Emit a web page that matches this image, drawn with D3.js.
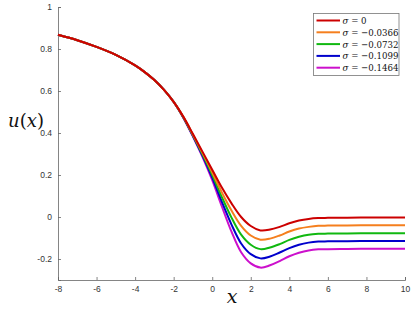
<!DOCTYPE html>
<html><head><meta charset="utf-8">
<script src="https://cdn.jsdelivr.net/npm/d3@7"></script>
<style>body{margin:0;background:#fff}svg{display:block}</style>
</head><body>
<script>
const xs = [-8,-7,-6,-5,-4,-3.5,-3,-2.5,-2,-1.5,-1,-0.5,0,0.5,1,1.5,2,2.5,3,3.5,4,4.5,5,5.5,6,7,8,9,10];
const sigma0 =  [0.868,0.842,0.81,0.772,0.722,0.69,0.652,0.605,0.548,0.478,0.395,0.31,0.225,0.14,0.065,0.0,-0.043,-0.064,-0.06,-0.047,-0.03,-0.017,-0.009,-0.005,-0.004,-0.003,-0.002,-0.002,-0.002];
const sigma1 =  [0.868,0.842,0.81,0.772,0.722,0.69,0.652,0.605,0.548,0.477,0.392,0.304,0.212,0.117,0.031,-0.042,-0.088,-0.108,-0.103,-0.088,-0.069,-0.055,-0.047,-0.042,-0.041,-0.04,-0.039,-0.039,-0.039];
const sigma2 =  [0.868,0.842,0.81,0.772,0.722,0.69,0.652,0.605,0.548,0.475,0.389,0.297,0.2,0.095,-0.003,-0.084,-0.132,-0.153,-0.145,-0.129,-0.109,-0.094,-0.084,-0.08,-0.079,-0.078,-0.077,-0.077,-0.077];
const sigma3 =  [0.868,0.842,0.81,0.772,0.722,0.69,0.652,0.605,0.548,0.474,0.386,0.291,0.187,0.072,-0.036,-0.126,-0.177,-0.197,-0.188,-0.169,-0.148,-0.132,-0.122,-0.117,-0.116,-0.115,-0.114,-0.114,-0.114];
const sigma4 =  [0.868,0.842,0.81,0.772,0.722,0.69,0.652,0.605,0.548,0.473,0.383,0.285,0.175,0.05,-0.07,-0.168,-0.221,-0.241,-0.23,-0.21,-0.187,-0.17,-0.159,-0.154,-0.153,-0.152,-0.151,-0.151,-0.151];
const seriesNames = ["0","\u22120.0366","\u22120.0732","\u22120.1099","\u22120.1464"];
const seriesColors = ["#cc0000","#f57f1e","#10b810","#0000cc","#cc10cc"];
const seriesValues = [sigma0,sigma1,sigma2,sigma3,sigma4];
const xTicks = [-8,-6,-4,-2,0,2,4,6,8,10];
const yTicks = [-0.2,0,0.2,0.4,0.6,0.8,1];

const W = 415, H = 310;
const serif = "'DejaVu Serif', serif";
const svg = d3.select("body").append("svg").attr("width",W).attr("height",H);
const x = d3.scaleLinear().domain([-8,10]).range([58,405]);
const y = d3.scaleLinear().domain([-0.3,1]).range([280,7]);

const axisColor = "#666", textColor = "#333";
const gx = svg.append("g").attr("transform",`translate(0,${y(-0.3)})`)
  .call(d3.axisBottom(x).tickValues(xTicks).tickSize(-3).tickPadding(6).tickFormat(d=>String(d)));
const gy = svg.append("g").attr("transform",`translate(${x(-8)},0)`)
  .call(d3.axisLeft(y).tickValues(yTicks).tickSize(-3).tickPadding(6).tickFormat(d=>String(d)));
[gx,gy].forEach(g=>{
  g.select(".domain").attr("stroke",axisColor).attr("stroke-width",0.8);
  g.selectAll(".tick line").attr("stroke",axisColor).attr("stroke-width",0.8);
  g.selectAll(".tick text").attr("fill",textColor).style("font-family","'Liberation Sans', Arial, sans-serif").style("font-size","8.5px");
});

const line = d3.line().x((d,i)=>x(xs[i])).y(d=>y(d)).curve(d3.curveCatmullRom.alpha(0.5));
for (let k = seriesValues.length-1; k>=0; k--) {
  svg.append("path").datum(seriesValues[k]).attr("d",line)
    .attr("fill","none").attr("stroke",seriesColors[k]).attr("stroke-width",2);
}

svg.append("text").attr("x",232).attr("y",303).attr("text-anchor","middle")
  .style("font-family",serif).style("font-style","italic").style("font-size","19px")
  .attr("fill","#111").text("x");
const yl = svg.append("text").attr("x",26).attr("y",127).attr("text-anchor","middle")
  .style("font-family",serif).style("font-size","18px").attr("fill","#111");
yl.append("tspan").style("font-style","italic").text("u");
yl.append("tspan").text("(");
yl.append("tspan").style("font-style","italic").text("x");
yl.append("tspan").text(")");

const lg = svg.append("g");
lg.append("rect").attr("x",313.5).attr("y",13.5).attr("width",85.5).attr("height",62)
  .attr("fill","#fff").attr("stroke","#777").attr("stroke-width",0.8);
seriesNames.forEach((n,i)=>{
  const yy = 20.5 + i*11.8;
  lg.append("line").attr("x1",316.5).attr("x2",340).attr("y1",yy).attr("y2",yy)
    .attr("stroke",seriesColors[i]).attr("stroke-width",2);
  const t = lg.append("text").attr("x",342.5).attr("y",yy+3.5)
    .style("font-family",serif).style("font-stretch","condensed").style("font-size","9.6px").attr("fill","#111");
  t.append("tspan").style("font-style","italic").text("\u03c3");
  t.append("tspan").text(" = " + n);
});
</script>
</body></html>
